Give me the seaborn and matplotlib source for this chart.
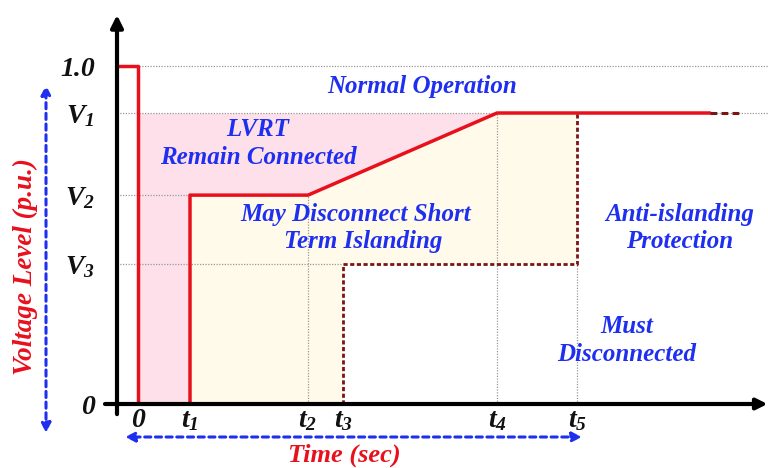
import matplotlib
matplotlib.use("Agg")
import matplotlib.pyplot as plt
import numpy as np
import pandas as pd
import seaborn as sns

# ---------------- data ----------------
time_labels = ["0", "$t_1$", "$t_2$", "$t_3$", "$t_4$", "$t_5$"]
time_values = [0.0, 0.52, 1.70, 2.05, 3.59, 4.39]
volt_labels = ["0", "$V_3$", "$V_2$", "$V_1$", "1.0"]
volt_values = [0.0, 0.414, 0.618, 0.861, 1.0]
t_solid_end = 5.72
t_dash_end = 6.05

T0, T1, T2, T3, T4, T5 = time_values
V0, V3, V2, V1, VN = volt_values

# ---------------- style ----------------
sns.set_theme(style="white")
plt.rcParams["font.family"] = ["Liberation Serif", "DejaVu Serif"]
plt.rcParams["mathtext.fontset"] = "custom"
plt.rcParams["mathtext.it"] = "Liberation Serif:bold:italic"
plt.rcParams["mathtext.rm"] = "Liberation Serif:bold:italic"
plt.rcParams["mathtext.bf"] = "Liberation Serif:bold:italic"

RED = "#e8101c"
DARKRED = "#7a1515"
BLUE = "#1f2ff0"
PINK = "#fde0ea"
CREAM = "#fffaea"
GRID = "#9a9a9a"

W, H = 768, 468
fig = plt.figure(figsize=(W / 100, H / 100), dpi=100)
# axes: left spine at x=117px, x-axis at y=404px
x_left_px, y_bot_px = 117, 404
xmin, xmax = -0.21, 6.30
ymin, ymax = 0.0, 1.151
ax_w_px = W - x_left_px
ax_h_px = y_bot_px - 15
ax = fig.add_axes([x_left_px / W, (H - y_bot_px) / H, ax_w_px / W, ax_h_px / H])
ax.set_xlim(xmin, xmax)
ax.set_ylim(ymin, ymax)
ax.patch.set_alpha(0)

# fills
pink_x = [T0, T1, T1, T2, T4]
pink_lo = [V0, V0, V2, V2, V1]
ax.fill_between(pink_x, pink_lo, [V1] * len(pink_x), color=PINK, lw=0, zorder=1)
cream_poly_x = [T1, T1, T2, T4, T5, T5, T3, T3]
cream_poly_y = [V0, V2, V2, V1, V1, V3, V3, V0]
ax.fill(cream_poly_x, cream_poly_y, color=CREAM, lw=0, zorder=1)

# gray dotted guide lines
gkw = dict(color=GRID, lw=0.9, ls=(0, (1, 1.2)), zorder=2)
ax.plot([xmin, xmax], [VN, VN], **gkw)
ax.plot([xmin, xmax], [V1, V1], **gkw)
ax.plot([xmin, T1], [V2, V2], **gkw)
ax.plot([xmin, T3], [V3, V3], **gkw)
ax.plot([T2, T2], [V0, V2], **gkw)
ax.plot([T4, T4], [V0, V1], **gkw)
ax.plot([T5, T5], [V0, V3], **gkw)

# red curve (seaborn)
seg_a = pd.DataFrame({"t": [xmin, T0, T0], "v": [VN, VN, V0]})
seg_b = pd.DataFrame({"t": [T1, T1, T2, T4, t_solid_end], "v": [V0, V2, V2, V1, V1]})
for seg in (seg_a, seg_b):
    sns.lineplot(data=seg, x="t", y="v", sort=False, estimator=None,
                 color=RED, lw=2.5, ax=ax, zorder=4)
seg_c = pd.DataFrame({"t": [t_solid_end, t_dash_end], "v": [V1, V1]})
sns.lineplot(data=seg_c, x="t", y="v", sort=False, estimator=None,
             color=DARKRED, lw=2.2, ax=ax, zorder=4, linestyle=(0, (2.2, 1.4)))

# dark red dashed boundary
seg_d = pd.DataFrame({"t": [T3, T3, T5, T5], "v": [V0, V3, V3, V1]})
sns.lineplot(data=seg_d, x="t", y="v", sort=False, estimator=None,
             color=DARKRED, lw=2.0, ax=ax, zorder=3, linestyle=(0, (1.5, 0.9)))

# axes styling
for s in ("top", "right", "left", "bottom"):
    ax.spines[s].set_visible(False)
ax.set_xlabel("")
ax.set_ylabel("")

# axis lines with arrows (extended past origin)
ax.annotate("", xy=(xmax - 0.005, 0), xytext=(-0.33, 0), xycoords="data",
            arrowprops=dict(arrowstyle="-|>", color="black", lw=3,
                            mutation_scale=16, shrinkA=0, shrinkB=0),
            annotation_clip=False, zorder=6)
ax.annotate("", xy=(xmin, 1.151), xytext=(xmin, -0.03), xycoords="data",
            arrowprops=dict(arrowstyle="-|>", color="black", lw=3,
                            mutation_scale=18, shrinkA=0, shrinkB=0),
            annotation_clip=False, zorder=6)

tick_font = dict(fontsize=20, fontweight="bold", fontstyle="italic")
ax.set_yticks(volt_values)
ax.set_yticklabels(volt_labels, **tick_font)
ax.set_xticks(time_values)
ax.set_xticklabels(time_labels, **tick_font)
ax.tick_params(axis="y", length=0, pad=16, colors="#111111")
ax.tick_params(axis="x", length=4, width=1.2, direction="in", pad=3,
               colors="#111111")

# region annotations
tfont = dict(color=BLUE, fontsize=18, fontweight="bold", fontstyle="italic",
             ha="center", va="center", zorder=7)
ax.text(2.84, 0.938, "Normal Operation", **tfont)
ax.text(1.20, 0.811, "LVRT", **tfont)
ax.text(1.20, 0.728, "Remain Connected", **tfont)
ax.text(2.18, 0.560, "May Disconnect Short", **tfont)
ax.text(2.25, 0.480, "Term Islanding", **tfont)
ax.text(5.42, 0.560, "Anti-islanding", **tfont)
ax.text(5.42, 0.480, "Protection", **tfont)
ax.text(4.89, 0.228, "Must", **tfont)
ax.text(4.89, 0.145, "Disconnected", **tfont)

# axis titles with blue dashed double arrows (figure pixel coords)
def px(x, y):
    return (x / W, 1 - y / H)

fig.text(*px(25, 267), "Voltage Level (p.u.)", color=RED, fontsize=19.5,
         fontweight="bold", fontstyle="italic", rotation=90,
         ha="center", va="center")
fig.text(*px(344, 467), "Time (sec)", color=RED, fontsize=19,
         fontweight="bold", fontstyle="italic", ha="center", va="bottom")

arrow_kw = dict(arrowstyle="<|-|>", color=BLUE, lw=2.2, ls=(0, (2, 1.5)),
                mutation_scale=14, shrinkA=0, shrinkB=0)
ax.annotate("", xy=px(46, 85), xytext=px(46, 433), xycoords="figure fraction",
            textcoords="figure fraction", arrowprops=arrow_kw,
            annotation_clip=False)
ax.annotate("", xy=px(125, 437), xytext=px(582, 437), xycoords="figure fraction",
            textcoords="figure fraction", arrowprops=arrow_kw,
            annotation_clip=False)

fig.savefig("out.png", dpi=100, facecolor="white")
